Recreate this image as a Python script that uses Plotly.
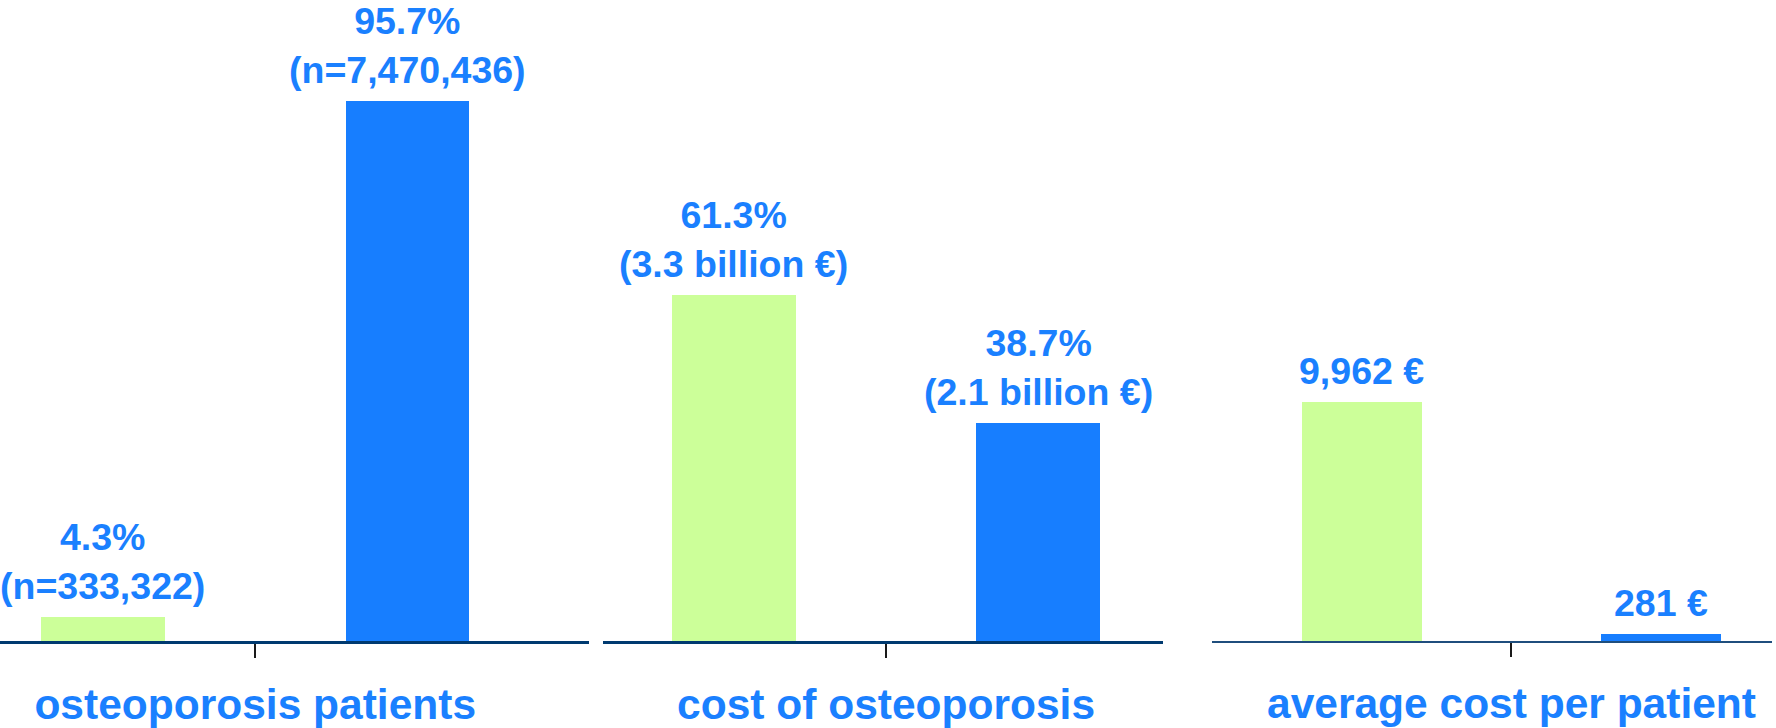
import plotly.graph_objects as go

# ---- data ----
categories = ["osteoporosis patients", "cost of osteoporosis", "average cost per patient"]
green_values = [4.3, 61.3, 9962]
blue_values = [95.7, 38.7, 281]
green_labels = ["4.3%<br>(n=333,322)", "61.3%<br>(3.3 billion €)", "9,962 €"]
blue_labels = ["95.7%<br>(n=7,470,436)", "38.7%<br>(2.1 billion €)", "281 €"]

GREEN = "#CCFF99"
BLUE = "#177EFF"
TEXT_BLUE = "#1A80FF"
FONT = "Liberation Sans, Arial, sans-serif"

W, H = 1776, 728
domains = [[0 / W, 589 / W], [603 / W, 1163 / W], [1212 / W, 1772 / W]]
xranges = [[-0.338, 1.596], [-0.43, 1.41], [-0.5, 1.37]]
yranges = [[0, 103], [0, 103], [0, 24220]]
bar_widths = [0.407, 0.407, 0.40]
line_colors = ["#003A70", "#003A70", "#1F4E7D"]
line_widths = [2.5, 2.5, 2]

fig = go.Figure()
annotations = []
for i in range(3):
    sfx = "" if i == 0 else str(i + 1)
    fig.add_trace(go.Bar(
        x=[0, 1], y=[green_values[i], blue_values[i]],
        marker=dict(color=[GREEN, BLUE], line=dict(width=0)),
        width=bar_widths[i],
        xaxis="x" + sfx, yaxis="y" + sfx,
        showlegend=False, hoverinfo="skip",
    ))
    for j, (v, lab) in enumerate([(green_values[i], green_labels[i]), (blue_values[i], blue_labels[i])]):
        annotations.append(dict(
            x=j, y=v, xref="x" + sfx, yref="y" + sfx,
            text=lab, showarrow=False, yanchor="bottom", xanchor="center",
            yshift=8,
            font=dict(family=FONT, size=37.5, color=TEXT_BLUE, weight="bold"),
        ))
    fig.layout["xaxis" + sfx] = dict(
        domain=domains[i], range=xranges[i], anchor="y" + sfx,
        showgrid=False, zeroline=False, automargin=False,
        showline=True, linecolor=line_colors[i], linewidth=line_widths[i],
        tickmode="array", tickvals=[0.5], ticktext=[categories[i]],
        ticks="outside", ticklen=14, tickwidth=2, tickcolor="#1A1A1A",
        ticklabelstandoff=10,
        tickfont=dict(family=FONT, size=42.5, color=TEXT_BLUE, weight="bold"),
        fixedrange=True,
    )
    fig.layout["yaxis" + sfx] = dict(
        domain=[0, 1], range=yranges[i], anchor="x" + sfx, automargin=False,
        visible=False, showgrid=False, zeroline=False, fixedrange=True,
    )

fig.update_layout(
    width=W, height=H,
    margin=dict(l=0, r=0, t=60, b=87, pad=0, autoexpand=False),
    paper_bgcolor="white", plot_bgcolor="white",
    annotations=annotations,
    bargap=0,
)

fig.write_html(
    "out.html",
    config={"displayModeBar": False},
    post_script="document.body.style.margin='0';document.body.style.overflow='hidden';",
)
